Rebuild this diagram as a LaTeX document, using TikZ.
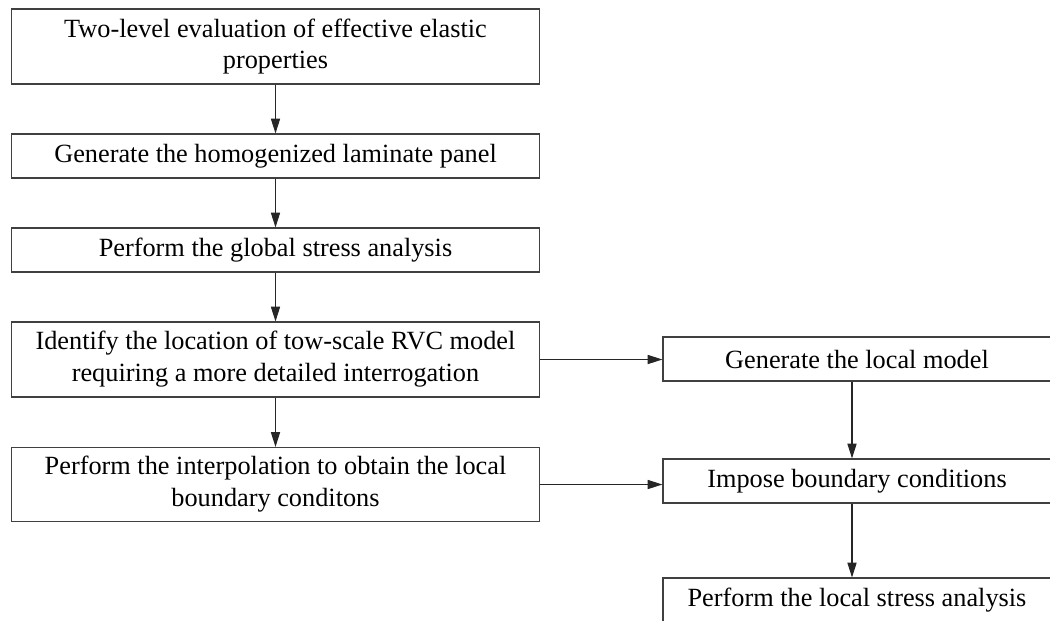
\documentclass[tikz,border=0pt]{standalone}
\usepackage{fontspec}
\setmainfont{Liberation Serif}
\usetikzlibrary{positioning, arrows.meta}

\begin{document}
\begin{tikzpicture}[x=0.025cm, y=-0.025cm,
  box/.style={draw=black!75, line width=0.8pt, align=center, inner sep=0pt,
    font=\fontsize{18.7}{22.7}\selectfont},
  leftbox/.style={box, minimum width=13.175cm},
  rightbox/.style={box, minimum width=9.7cm, minimum height=1.1cm},
  flow/.style={-{Triangle[length=10.5pt, width=6.5pt]}, line width=0.8pt, black!85}]

\useasboundingbox (0,0) rectangle (1050,620);
\clip (0,0) rectangle (1050,620);

% Global column
\node[leftbox, minimum height=1.875cm] (evaluate) at (275.5,46.5) {Two-level evaluation of effective elastic\\properties};
\node[leftbox, minimum height=1.1cm] (panel) at (275.5,156) {Generate the homogenized laminate panel};
\node[leftbox, minimum height=1.1cm] (global) at (275.5,250) {Perform the global stress analysis};
\node[leftbox, minimum height=1.875cm] (locate) at (275.5,359.5) {Identify the location of tow-scale RVC model\\requiring a more detailed interrogation};
\node[leftbox, minimum height=1.85cm] (interp) at (275.5,484.5) {Perform the interpolation to obtain the local\\boundary conditons};

% Local column
\node[rightbox] (localmodel) at (857,359) {Generate the local model};
\node[rightbox] (impose) at (857,481) {Impose boundary conditions};
\node[rightbox] (localstress) at (857,600) {Perform the local stress analysis};

% Arrows
\draw[flow] (evaluate) -- (panel);
\draw[flow] (panel) -- (global);
\draw[flow] (global) -- (locate);
\draw[flow] (locate) -- (interp);
\draw[flow] (locate.east) -- (locate.east -| localmodel.west);
\draw[flow] (interp.east) -- (interp.east -| impose.west);
\draw[flow] ([xshift=-0.125cm]localmodel.south) -- ([xshift=-0.125cm]impose.north);
\draw[flow] ([xshift=-0.125cm]impose.south) -- ([xshift=-0.125cm]localstress.north);

\end{tikzpicture}
\end{document}
